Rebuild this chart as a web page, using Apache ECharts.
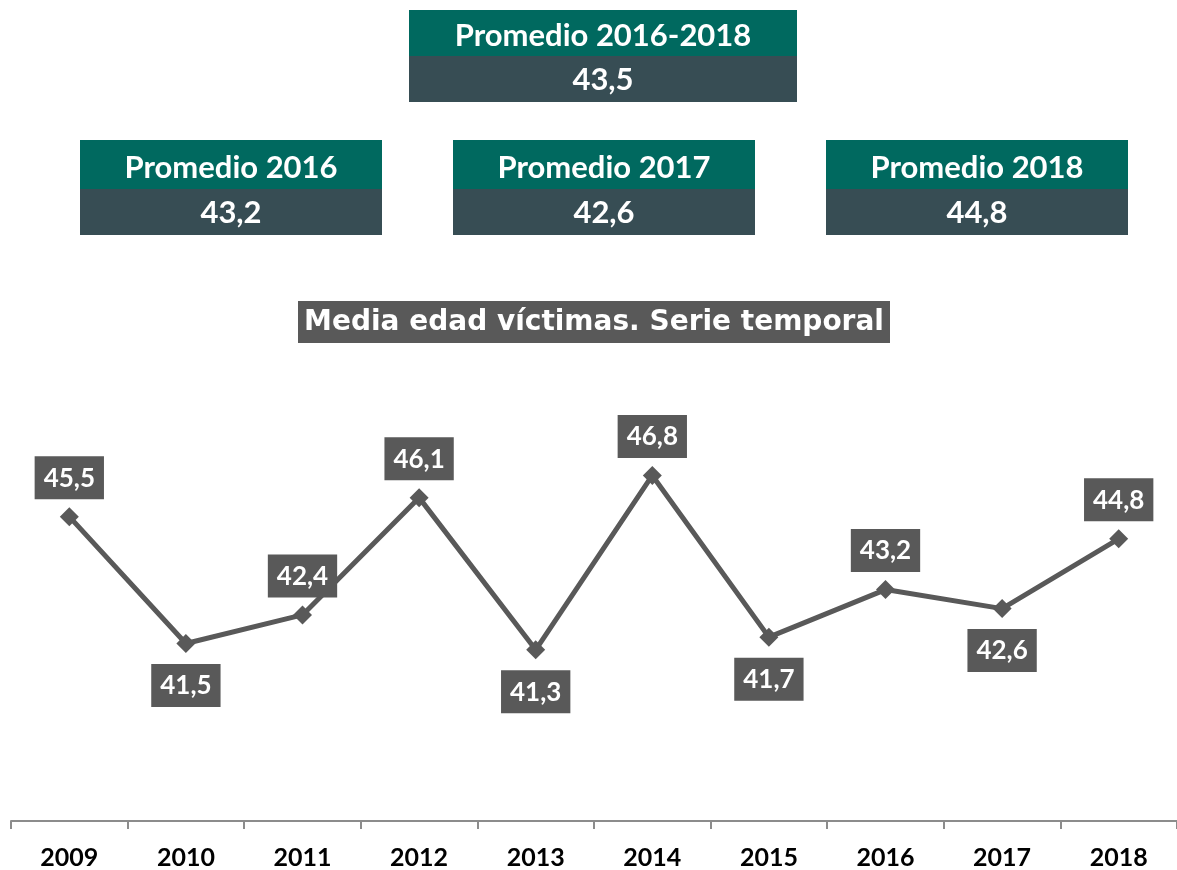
<!DOCTYPE html>
<html>
<head>
<meta charset="utf-8">
<script src="https://cdn.jsdelivr.net/npm/echarts@6/dist/echarts.min.js"></script>
<style>
  html, body { margin: 0; padding: 0; background: #fff; }
  #chart1 { width: 1177px; height: 870px; }
</style>
</head>
<body>
<div id="chart1"></div>
<script>
// datos
var years = ['2009', '2010', '2011', '2012', '2013', '2014', '2015', '2016', '2017', '2018'];
var edadMedia = [45.5, 41.5, 42.4, 46.1, 41.3, 46.8, 41.7, 43.2, 42.6, 44.8];
var promedioLabels = ['Promedio 2016-2018', 'Promedio 2016', 'Promedio 2017', 'Promedio 2018'];
var promedioValues = ['43,5', '43,2', '42,6', '44,8'];
var chartTitle = 'Media edad víctimas. Serie temporal';

var teal = '#00695f';
var slate = '#374d54';
var grey = '#595959';
var calibri = 'Lato, "Open Sans", sans-serif';

var myChart1 = echarts.init(document.getElementById('chart1'));

// cajas de promedio: [x, y, ancho, alto arriba, alto abajo]
var boxLayout = [[409, 10, 388, 46, 46], [80, 140, 302, 49, 46], [453, 140, 302, 49, 46], [826, 140, 302, 49, 46]];
var graphics = [];
boxLayout.forEach(function (b, i) {
    var x = b[0], y = b[1], w = b[2], h1 = b[3], h2 = b[4];
    graphics.push({ type: 'rect', shape: { x: x, y: y, width: w, height: h1 }, style: { fill: teal } });
    graphics.push({ type: 'rect', shape: { x: x, y: y + h1, width: w, height: h2 }, style: { fill: slate } });
    graphics.push({ type: 'text', style: { x: x + w / 2, y: y + h1 / 2 + 3, text: promedioLabels[i], fill: '#fff',
        font: 'bold 31px ' + calibri, textAlign: 'center', textVerticalAlign: 'middle' } });
    graphics.push({ type: 'text', style: { x: x + w / 2, y: y + h1 + h2 / 2 + 1, text: promedioValues[i], fill: '#fff',
        font: 'bold 31px ' + calibri, textAlign: 'center', textVerticalAlign: 'middle' } });
});
// titulo
graphics.push({ type: 'rect', shape: { x: 298, y: 301, width: 592, height: 42 }, style: { fill: grey } });
graphics.push({ type: 'text', style: { x: 594, y: 323, text: chartTitle, fill: '#fff',
    font: 'bold 28px "DejaVu Sans", Verdana, sans-serif', textAlign: 'center', textVerticalAlign: 'middle' } });

// etiqueta abajo si es minimo local
var seriesData = edadMedia.map(function (v, i) {
    var prev = i > 0 ? edadMedia[i - 1] : Infinity;
    var next = i < edadMedia.length - 1 ? edadMedia[i + 1] : Infinity;
    var below = v < prev && v < next;
    return {
        value: v,
        label: { position: below ? 'bottom' : 'top', distance: below ? 11 : 8 }
    };
});

var option = {
    animation: false,
    graphic: graphics,
    grid: { left: 11, right: 0, top: 374, bottom: 48 },
    xAxis: {
        type: 'category',
        data: years,
        boundaryGap: true,
        axisLine: { lineStyle: { color: '#8c8c8c', width: 2 } },
        axisTick: { show: true, length: 8, lineStyle: { color: '#8c8c8c', width: 2 } },
        axisLabel: { color: '#000', fontWeight: 'bold', fontSize: 25, fontFamily: calibri, margin: 24 }
    },
    yAxis: {
        type: 'value',
        min: 35.9,
        max: 50,
        show: false,
        splitLine: { show: false }
    },
    series: [
        {
            type: 'line',
            data: seriesData,
            symbol: 'diamond',
            symbolSize: 19,
            itemStyle: { color: grey },
            lineStyle: { color: grey, width: 5 },
            label: {
                show: true,
                formatter: function (p) { return p.value.toFixed(1).replace('.', ','); },
                color: '#fff',
                fontWeight: 'bold',
                fontSize: 26,
                fontFamily: calibri,
                backgroundColor: grey,
                padding: [9, 9, 8, 9]
            }
        }
    ]
};
myChart1.setOption(option);
</script>
</body>
</html>
